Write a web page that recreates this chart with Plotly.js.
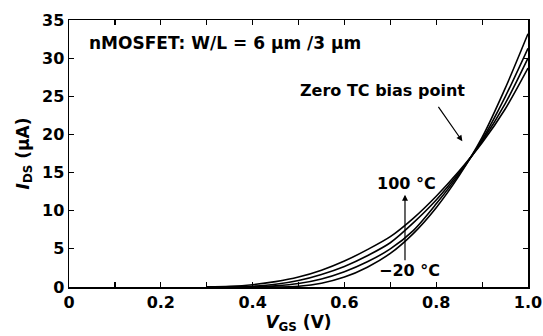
<!DOCTYPE html>
<html>
<head>
<meta charset="utf-8">
<script src="https://cdn.plot.ly/plotly-3.0.1.min.js"></script>
<style>html,body{margin:0;padding:0;background:#fff;}#chart{width:543px;height:336px;}</style>
</head>
<body>
<div id="chart"></div>
<script>
// V_GS (V)
var vgs = [0.30, 0.35, 0.40, 0.45, 0.50, 0.55, 0.60, 0.65, 0.70, 0.75, 0.80, 0.85, 0.90, 0.95, 1.00];
// I_DS (uA) for each temperature
var idsM20 = [0, 0, 0, 0, 0.10, 0.50, 1.30, 2.60, 4.40, 7.00, 10.4, 14.6, 19.6, 26.0, 33.2];
var ids20  = [0, 0, 0, 0.15, 0.45, 1.05, 2.00, 3.30, 5.00, 7.40, 10.9, 14.8, 19.3, 24.9, 31.3];
var ids60  = [0, 0, 0.10, 0.35, 0.85, 1.65, 2.70, 4.10, 5.80, 8.40, 11.4, 15.0, 19.1, 24.0, 30.0];
var ids100 = [0, 0.08, 0.30, 0.70, 1.30, 2.20, 3.40, 4.90, 6.60, 9.00, 11.9, 15.2, 18.9, 23.3, 28.7];
var series = [idsM20, ids20, ids60, ids100];

var xTickVals = [0, 0.2, 0.4, 0.6, 0.8, 1.0];
var xTickText = ["0", "0.2", "0.4", "0.6", "0.8", "1.0"];
var yTickVals = [0, 5, 10, 15, 20, 25, 30, 35];
var yTickText = ["0", "5", "10", "15", "20", "25", "30", "35"];

var FONT = "DejaVu Sans, Arial, sans-serif";

var traces = series.map(function (s) {
  return {
    x: vgs, y: s, type: "scatter", mode: "lines",
    line: {color: "#000", width: 1.6, shape: "spline", smoothing: 0.8},
    showlegend: false, hoverinfo: "skip"
  };
});

var bold = {family: FONT, size: 16, color: "#000", weight: "bold"};

var layout = {
  width: 543, height: 336,
  margin: {l: 69, r: 15, t: 20, b: 49},
  paper_bgcolor: "#fff", plot_bgcolor: "#fff",
  font: {family: FONT, color: "#000"},
  xaxis: {
    range: [0, 1.0], showgrid: false, zeroline: false,
    showline: true, linecolor: "#000", linewidth: 1.5, mirror: "ticks",
    ticks: "inside", ticklen: 5, tickwidth: 1.2, tickcolor: "#000",
    tickvals: xTickVals, ticktext: xTickText, ticklabeloverflow: "allow",
    minor: {dtick: 0.1, tick0: 0, ticks: "inside", ticklen: 5, tickwidth: 1.2, tickcolor: "#000"},
    tickfont: {family: FONT, size: 16, color: "#000", weight: "bold"},
    title: {text: "<i>V</i><sub>GS</sub> (V)", font: {family: FONT, size: 17, color: "#000", weight: "bold"}, standoff: 4}
  },
  yaxis: {
    range: [0, 35], showgrid: false, zeroline: false,
    showline: true, linecolor: "#000", linewidth: 1.5, mirror: "ticks",
    ticks: "inside", ticklen: 5, tickwidth: 1.2, tickcolor: "#000",
    tickvals: yTickVals, ticktext: yTickText,
    tickfont: {family: FONT, size: 16, color: "#000", weight: "bold"},
    title: {text: "<i>I</i><sub>DS</sub> (\u00b5A)", font: {family: FONT, size: 17, color: "#000", weight: "bold"}, standoff: 8}
  },
  annotations: [
    {xref: "paper", yref: "paper", x: 0.04, y: 0.915, xanchor: "left", yanchor: "middle",
     text: "nMOSFET: W/L = 6 \u00b5m /3 \u00b5m", showarrow: false,
     font: {family: FONT, size: 17, color: "#000", weight: "bold"}},
    {xref: "x", yref: "y", x: 0.868, y: 25.8, xanchor: "right", yanchor: "middle",
     text: "Zero TC bias point", showarrow: false, font: bold},
    {xref: "x", yref: "y", x: 0.857, y: 19.1, text: "", showarrow: true,
     axref: "pixel", ayref: "pixel", ax: -25, ay: -36,
     arrowhead: 2, arrowsize: 1, arrowwidth: 1.2, arrowcolor: "#000"},
    {xref: "x", yref: "y", x: 0.732, y: 12.1, text: "", showarrow: true,
     axref: "pixel", ayref: "pixel", ax: 0, ay: 67,
     arrowhead: 2, arrowsize: 1, arrowwidth: 1.2, arrowcolor: "#000"},
    {xref: "x", yref: "y", x: 0.735, y: 13.6, xanchor: "center", yanchor: "middle",
     text: "100 \u00b0C", showarrow: false, font: bold},
    {xref: "x", yref: "y", x: 0.741, y: 2.2, xanchor: "center", yanchor: "middle",
     text: "\u221220 \u00b0C", showarrow: false, font: bold}
  ]
};

Plotly.newPlot("chart", traces, layout, {staticPlot: true, displayModeBar: false});
</script>
</body>
</html>
